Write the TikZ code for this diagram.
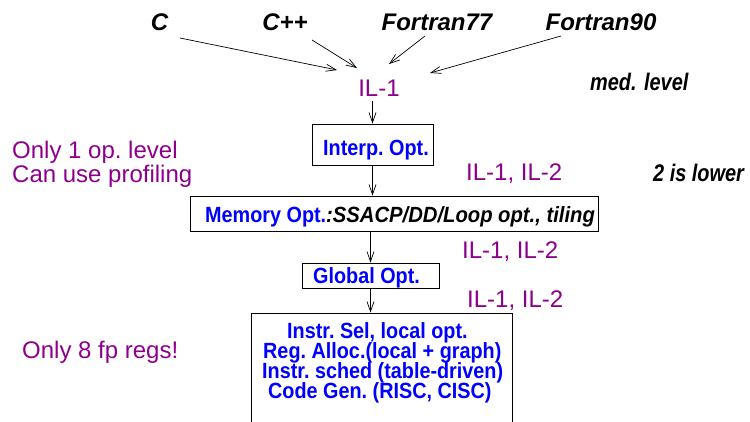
\documentclass[tikz,border=0pt]{standalone}
\usepackage{fontspec}
\setmainfont{Liberation Sans}
\newfontfamily\narrowface[FakeStretch=0.83]{Liberation Sans}
\newfontfamily\boxface[FakeStretch=0.9]{Liberation Sans}
\newfontfamily\tagface[FakeStretch=0.92]{Liberation Sans}
\usetikzlibrary{arrows.meta}
\definecolor{ilpurple}{RGB}{140,0,140}
\definecolor{optblue}{RGB}{0,0,255}
\begin{document}
\begin{tikzpicture}[x=1pt,y=-1pt,
  lang/.style={font=\fontsize{24}{28}\selectfont\bfseries\itshape, inner sep=0, anchor=base},
  note/.style={font=\narrowface\fontsize{24}{28}\selectfont\bfseries\itshape, inner sep=0, anchor=base west},
  il/.style={font=\fontsize{24}{28}\selectfont, text=ilpurple, inner sep=0, anchor=base west},
  opt/.style={font=\boxface\fontsize{22}{26}\selectfont\bfseries, text=optblue, inner sep=0, anchor=base west},
  box/.style={draw, line width=0.8pt, inner sep=0},
  arr/.style={-{Straight Barb[length=10pt,width=7pt]}, line width=0.7pt}]
\useasboundingbox (0,0) rectangle (750,421);
\clip (0,0) rectangle (750,421);

% source languages
\node[lang] (c)   at (159.5,30) {C};
\node[lang] (cpp) at (285,30) {C++};
\node[lang] (f77) at (437,30) {Fortran77};
\node[lang] (f90) at (601,30) {Fortran90};

% intermediate language
\node[il, anchor=base] (il1) at (379,96) {IL-1};
\node[note] (med) at (590,90) {med. level};

\draw[arr] ([shift={(20.5,8)}]c.base)   -- ([shift={(-42,-26)}]il1.base);
\draw[arr] ([shift={(27,10)}]cpp.base)  -- ([shift={(-22,-28)}]il1.base);
\draw[arr] ([shift={(-12,6)}]f77.base)  -- ([shift={(10,-32)}]il1.base);
\draw[arr] ([shift={(-40,6)}]f90.base)  -- ([shift={(51,-23)}]il1.base);

% optimisation stages
\node[box, minimum width=121pt, minimum height=41pt] (interp) at (372.5,144.5) {};
\node[opt] (interptxt) at (323,155) {Interp.\ Opt.};

\node[box, minimum width=408pt, minimum height=35pt] (mem) at (394,213.5) {};
\node[opt] (memtxt) at (205,222) {Memory Opt.{\tagface\color{black}\itshape :SSACP/DD/Loop opt., tiling}};

\node[box, minimum width=137pt, minimum height=25pt] (glob) at (370.5,275.5) {};
\node[opt] (globtxt) at (313,283) {Global Opt.};

\node[box, minimum width=261pt, minimum height=130pt] (back) at (381.5,378) {};
\node[opt] (l1) at (287,338.5) {Instr.\ Sel, local opt.};
\node[opt] (l2) at (263,358.5) {Reg.\ Alloc.(local + graph)};
\node[opt] (l3) at (262,378.5) {Instr.\ sched (table-driven)};
\node[opt] (l4) at (268,398.5) {Code Gen.\ (RISC, CISC)};

\draw[arr] ([yshift=-5pt]il1.south -| interp.north) -- (interp.north);
\draw[arr] (interp.south) -- (interp.south |- mem.north);
\draw[arr] (mem.south -| glob.north) -- (glob.north);
\draw[arr] (glob.south) -- (glob.south |- back.north);

% side remarks
\node[il] (lvl)  at (12,158) {Only 1 op.\ level};
\node[il] (prof) at (12,182) {Can use profiling};
\node[il] (fp)   at (22,358) {Only 8 fp regs!};
\node[il] (ila)  at (466,180) {IL-1, IL-2};
\node[il] (ilb)  at (462,258) {IL-1, IL-2};
\node[il] (ilc)  at (467,307) {IL-1, IL-2};
\node[note] (low) at (653,181) {2 is lower};
\end{tikzpicture}
\end{document}
